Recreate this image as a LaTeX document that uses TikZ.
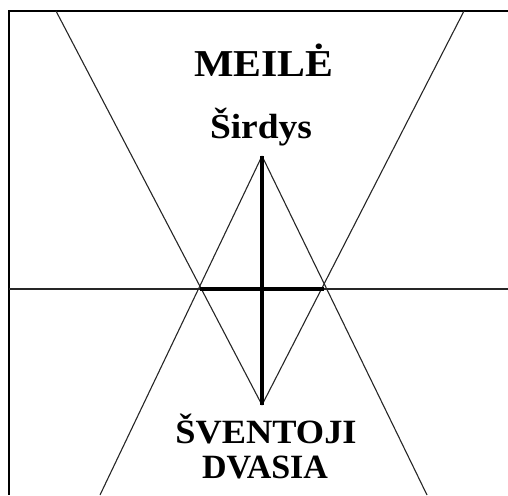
\documentclass[tikz,border=0pt]{standalone}
\usepackage{fontspec}
\setmainfont{Liberation Serif}
\usetikzlibrary{positioning}

\begin{document}
\begin{tikzpicture}[x=1pt,y=-1pt,
    thinln/.style={draw=black!85,line width=1.1pt},
    crossln/.style={draw=black,line width=3.8pt},
    frameln/.style={draw=black,line width=2.6pt},
    lbl/.style={font=\bfseries\fontsize{34}{38}\selectfont,inner sep=0pt,anchor=base},
    toplbl/.style={font=\bfseries\fontsize{38}{42}\selectfont,inner sep=0pt,anchor=base,xscale=1.1},
    sublbl/.style={font=\bfseries\fontsize{35}{40}\selectfont,inner sep=0pt,anchor=base,xscale=1.07}
  ]
    \useasboundingbox (0,0) rectangle (508,495);
    % corners of the two triangles
    \coordinate (tl) at (56,11);
    \coordinate (tr) at (464,11);
    \coordinate (bl) at (100,495);
    \coordinate (br) at (427,495);
    % diamond in the middle
    \coordinate (top) at (262,156);
    \coordinate (bot) at (262,405);
    \coordinate (lft) at (200,289);
    \coordinate (rgt) at (324,289);
    \coordinate (hl) at (9,289);
    \coordinate (hr) at (508,289);
    % texts
    \node[toplbl] (meile) at (264,76) {MEILĖ};
    \node[sublbl] (sirdys) at (261,138) {Širdys};
    \node[lbl,xscale=1.07] (svent) at (266,443) {ŠVENTOJI};
    \node[lbl] (dvasia) at (265,478) {DVASIA};
    % frame
    \draw[frameln] (508,11) -- (9,11) -- (9,495);
    % lines
    \draw[thinln] (hl) -- (hr);
    \draw[thinln] (tl) -- (bot);
    \draw[thinln] (tr) -- (bot);
    \draw[thinln] (bl) -- (top);
    \draw[thinln] (br) -- (top);
    \draw[crossln] (top) -- (bot);
    \draw[crossln] (lft) -- (rgt);
  \end{tikzpicture}
\end{document}
